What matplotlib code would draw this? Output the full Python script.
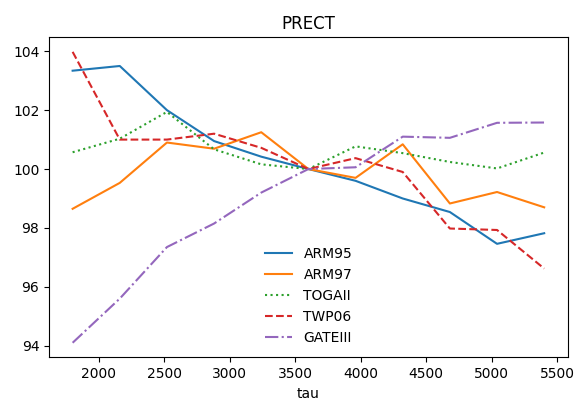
import matplotlib
matplotlib.use("Agg")
import matplotlib.pyplot as plt

tau = [1800, 2160, 2520, 2880, 3240, 3600, 3960, 4320, 4680, 5040, 5400]

arm95 = [103.34, 103.50, 102.00, 100.95, 100.42, 100.0, 99.60, 99.00, 98.54, 97.46, 97.82]
arm97 = [98.65, 99.53, 100.90, 100.69, 101.25, 100.0, 99.70, 100.84, 98.83, 99.22, 98.70]
togaii = [100.57, 101.03, 101.94, 100.67, 100.16, 100.0, 100.77, 100.54, 100.24, 100.02, 100.56]
twp06 = [103.98, 101.00, 101.00, 101.20, 100.72, 100.0, 100.37, 99.90, 97.98, 97.93, 96.62]
gateiii = [94.10, 95.60, 97.35, 98.15, 99.20, 100.0, 100.06, 101.10, 101.06, 101.57, 101.58]

series = [
    ("ARM95", arm95, "-"),
    ("ARM97", arm97, "-"),
    ("TOGAII", togaii, ":"),
    ("TWP06", twp06, "--"),
    ("GATEIII", gateiii, "-."),
]

fig, ax = plt.subplots(figsize=(5.77, 3.99), dpi=100)
for name, vals, ls in series:
    ax.plot(tau, vals, linestyle=ls, label=name)

ax.set_title("PRECT")
ax.set_xlabel("tau")
ax.legend(loc="lower center", frameon=False)
fig.subplots_adjust(left=0.085, right=0.984, top=0.9065, bottom=0.1045)
fig.savefig("out.png", dpi=100)
